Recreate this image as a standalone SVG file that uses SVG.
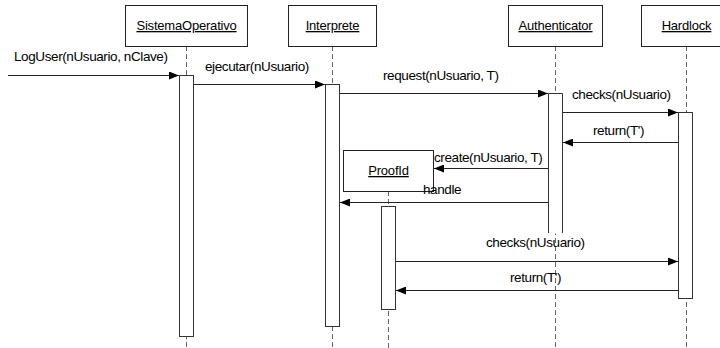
<svg xmlns="http://www.w3.org/2000/svg" width="720" height="348" viewBox="0 0 720 348">
  <style>
    .obj { fill: #fff; stroke: #222; stroke-width: 1; }
    .act { fill: #fff; stroke: #333; stroke-width: 1; }
    .life { stroke: #666; stroke-width: 1; stroke-dasharray: 5 3; fill: none; }
    .msg { stroke: #222; stroke-width: 1; fill: none; marker-end: url(#arrow); }
    .name { font-family: "Liberation Sans", Arial, sans-serif; font-size: 13px; fill: #000; text-anchor: middle; text-decoration: underline; letter-spacing: -0.2px; }
    .lbl { font-family: "Liberation Sans", Arial, sans-serif; font-size: 13.5px; fill: #000; letter-spacing: -0.4px; }
  </style>
  <defs>
    <marker id="arrow" viewBox="0 0 10 8" refX="10" refY="4" markerWidth="10" markerHeight="8" markerUnits="userSpaceOnUse" orient="auto">
      <path d="M0,0 L10,4 L0,8 z" fill="#000"/>
    </marker>
  </defs>
  <rect width="720" height="348" fill="#fff"/>

  <!-- lifelines -->
  <g id="lifelines">
    <line class="life" x1="186.5" y1="46" x2="186.5" y2="348"/>
    <line class="life" x1="332.5" y1="46" x2="332.5" y2="348"/>
    <line class="life" x1="555.5" y1="46" x2="555.5" y2="348"/>
    <line class="life" x1="686.5" y1="46" x2="686.5" y2="348"/>
    <line class="life" x1="388.5" y1="191" x2="388.5" y2="348"/>
  </g>

  <g id="SistemaOperativo">
    <rect class="obj" x="125.5" y="5.5" width="122" height="41"/>
    <text class="name" x="186.5" y="30">SistemaOperativo</text>
    <rect class="act" x="179.5" y="75.5" width="14" height="261"/>
  </g>

  <g id="Interprete">
    <rect class="obj" x="288.5" y="5.5" width="88" height="41"/>
    <text class="name" x="332.5" y="30">Interprete</text>
    <rect class="act" x="325.5" y="84.5" width="14" height="242"/>
  </g>

  <g id="Authenticator">
    <rect class="obj" x="508.5" y="5.5" width="94" height="41"/>
    <text class="name" x="555.5" y="30">Authenticator</text>
    <!-- activation bar, open at the bottom -->
    <rect x="548.5" y="93.5" width="14" height="140" fill="#fff"/>
    <path d="M548.5,233 V93.5 H562.5 V233" fill="none" stroke="#333" stroke-width="1"/>
  </g>

  <g id="Hardlock">
    <rect class="obj" x="641.5" y="5.5" width="90" height="41"/>
    <text class="name" x="686.5" y="30">Hardlock</text>
    <rect class="act" x="678.5" y="112.5" width="14" height="186"/>
  </g>

  <g id="ProofId">
    <rect class="obj" x="343.5" y="150.5" width="90" height="41"/>
    <text class="name" x="388.5" y="175">ProofId</text>
    <rect class="act" x="381.5" y="206.5" width="14" height="103"/>
  </g>

  <!-- messages -->
  <g id="connectors">
    <line class="msg" x1="8" y1="75.5" x2="179" y2="75.5"/>
    <line class="msg" x1="194" y1="84.5" x2="325" y2="84.5"/>
    <line class="msg" x1="340" y1="93.5" x2="548" y2="93.5"/>
    <line class="msg" x1="563" y1="112.5" x2="678" y2="112.5"/>
    <line class="msg" x1="678" y1="142.5" x2="563" y2="142.5"/>
    <line class="msg" x1="548" y1="168.5" x2="434" y2="168.5"/>
    <line class="msg" x1="548" y1="202.5" x2="340" y2="202.5"/>
    <line class="msg" x1="396" y1="261.5" x2="678" y2="261.5"/>
    <line class="msg" x1="678" y1="290.5" x2="396" y2="290.5"/>
  </g>

  <g id="labels">
    <text class="lbl" x="14" y="61">LogUser(nUsuario, nClave)</text>
    <text class="lbl" x="205" y="71">ejecutar(nUsuario)</text>
    <text class="lbl" x="383" y="80">request(nUsuario, T)</text>
    <text class="lbl" x="572" y="99">checks(nUsuario)</text>
    <text class="lbl" x="593" y="135">return(T')</text>
    <text class="lbl" x="434" y="162">create(nUsuario, T)</text>
    <text class="lbl" x="423" y="194">handle</text>
    <text class="lbl" x="486" y="247">checks(nUsuario)</text>
    <text class="lbl" x="510" y="282">return(T')</text>
  </g>
</svg>
